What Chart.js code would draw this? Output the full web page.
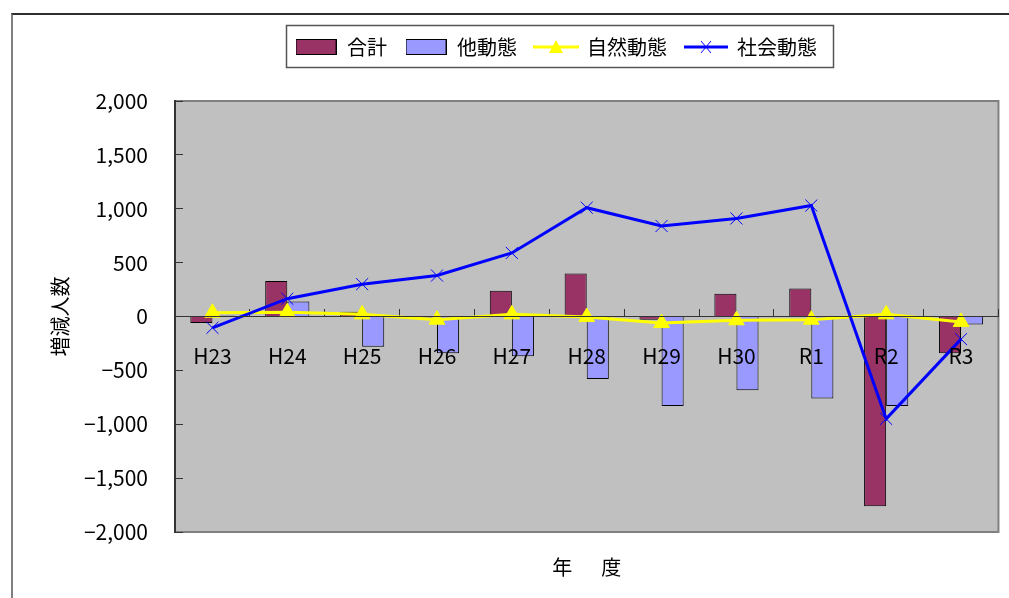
<!DOCTYPE html>
<html>
<head>
<meta charset="utf-8">
<script src="https://cdn.jsdelivr.net/npm/chart.js@4/dist/chart.umd.min.js"></script>
<style>
  html, body { margin: 0; padding: 0; background: #fff; }
  #wrap { position: relative; width: 1009px; height: 598px; overflow: hidden; }
  #frame { position: absolute; left: 11px; top: 13px; right: -6px; bottom: -6px;
           border-top: 2px solid #2e2e2e; border-left: 2px solid #7f7f7f; pointer-events: none; }
  canvas { display: block; }
</style>
</head>
<body>
<div id="wrap">
  <canvas id="chart" width="1009" height="598"></canvas>
  <div id="frame"></div>
</div>
<script>
// 年度別の人口増減（人）
const categories = ['H23', 'H24', 'H25', 'H26', 'H27', 'H28', 'H29', 'H30', 'R1', 'R2', 'R3'];
const totalChange   = [-60, 330, 45, -10, 240, 400, -30, 210, 260, -1760, -340];   // 合計
const otherChange   = [10, 140, -280, -340, -370, -580, -830, -685, -760, -830, -75]; // 他動態
const naturalChange = [35, 40, 20, -30, 20, -5, -60, -35, -30, 20, -50];              // 自然動態
const socialChange  = [-105, 165, 300, 380, 590, 1010, 840, 910, 1030, -950, -210];   // 社会動態
const yTicks = [-2000, -1500, -1000, -500, 0, 500, 1000, 1500, 2000];

const FONT = "'Noto Sans CJK JP', 'Noto Sans', sans-serif";
Chart.defaults.font.family = FONT;
Chart.defaults.font.size = 20;
Chart.defaults.color = '#000';

// small legend glyphs: filled box for bars, line + marker for lines
function legendIcon(kind) {
  const cv = document.createElement('canvas');
  const ctx = cv.getContext('2d');
  if (kind === 'barTotal' || kind === 'barOther') {
    cv.width = 41; cv.height = 16;
    ctx.fillStyle = kind === 'barTotal' ? '#993366' : '#9999FF';
    ctx.fillRect(0.5, 0.5, 40, 15);
    ctx.strokeStyle = '#000'; ctx.lineWidth = 1;
    ctx.strokeRect(0.5, 0.5, 40, 15);
  } else if (kind === 'natural') {
    cv.width = 46; cv.height = 18;
    ctx.strokeStyle = '#FFFF00'; ctx.lineWidth = 3;
    ctx.beginPath(); ctx.moveTo(0, 9); ctx.lineTo(46, 9); ctx.stroke();
    ctx.fillStyle = '#FFFF00';
    ctx.beginPath(); ctx.moveTo(23, 2); ctx.lineTo(30, 15); ctx.lineTo(16, 15); ctx.closePath(); ctx.fill();
  } else {
    cv.width = 44; cv.height = 18;
    ctx.strokeStyle = '#0000FF'; ctx.lineWidth = 3;
    ctx.beginPath(); ctx.moveTo(0, 9); ctx.lineTo(44, 9); ctx.stroke();
    ctx.lineWidth = 1;
    ctx.beginPath(); ctx.moveTo(17, 3); ctx.lineTo(27, 15); ctx.moveTo(27, 3); ctx.lineTo(17, 15); ctx.stroke();
  }
  return cv;
}
const legendIcons = [legendIcon('barTotal'), legendIcon('barOther'), legendIcon('natural'), legendIcon('social')];

// gray plotting area with a thin darker outline
const plotArea = {
  id: 'plotArea',
  beforeDraw(chart) {
    const { ctx, chartArea: a } = chart;
    ctx.save();
    ctx.fillStyle = '#C0C0C0';
    ctx.fillRect(a.left, a.top, a.right - a.left, a.bottom - a.top);
    ctx.strokeStyle = '#808080';
    ctx.lineWidth = 2;
    ctx.strokeRect(a.left, a.top, a.right - a.left, a.bottom - a.top);
    ctx.restore();
  }
};

// legend: extra space below it, a small right shift, and a frame around its items
const LEGEND_GAP = 34;
const LEGEND_SHIFT = 36;
const legendFrame = {
  id: 'legendFrame',
  beforeInit(chart) {
    const legend = chart.legend;
    const fit = legend.fit;
    legend.fit = function () {
      fit.call(this);
      this.height += LEGEND_GAP;
    };
  },
  afterLayout(chart) {
    const legend = chart.legend;
    legend.left += LEGEND_SHIFT;
    legend.right += LEGEND_SHIFT;
  },
  afterDraw(chart) {
    const boxes = chart.legend && chart.legend.legendHitBoxes;
    if (!boxes || !boxes.length) return;
    const left = Math.min(...boxes.map(b => b.left)) - 9;
    const right = Math.max(...boxes.map(b => b.left + b.width)) + 16;
    const top = boxes[0].top - 12;
    const bottom = boxes[0].top + boxes[0].height + 10;
    const { ctx } = chart;
    ctx.save();
    ctx.strokeStyle = '#555';
    ctx.lineWidth = 1.5;
    ctx.strokeRect(Math.round(left) + 0.5, Math.round(top) + 0.5, Math.round(right - left), Math.round(bottom - top));
    ctx.restore();
  }
};

new Chart(document.getElementById('chart'), {
  data: {
    labels: categories,
    datasets: [
      { type: 'bar', label: '合計', data: totalChange, xAxisID: 'x', yAxisID: 'y',
        backgroundColor: '#993366', borderColor: '#000', borderWidth: 1,
        categoryPercentage: 0.59, barPercentage: 1, order: 2 },
      { type: 'bar', label: '他動態', data: otherChange, xAxisID: 'x', yAxisID: 'y',
        backgroundColor: '#9999FF', borderColor: '#000', borderWidth: 1,
        categoryPercentage: 0.59, barPercentage: 1, order: 3 },
      { type: 'line', label: '自然動態', data: naturalChange, xAxisID: 'x', yAxisID: 'y',
        borderColor: '#FFFF00', backgroundColor: '#FFFF00', borderWidth: 3, tension: 0,
        pointStyle: 'triangle', pointRadius: 9, pointHoverRadius: 9,
        pointBackgroundColor: '#FFFF00', pointBorderColor: '#FFFF00', pointBorderWidth: 1, order: 1 },
      { type: 'line', label: '社会動態', data: socialChange, xAxisID: 'x', yAxisID: 'y',
        borderColor: '#0000FF', backgroundColor: '#0000FF', borderWidth: 3, tension: 0,
        pointStyle: 'crossRot', pointRadius: 8.5, pointHoverRadius: 8.5,
        pointBorderColor: '#0000FF', pointBorderWidth: 1, order: 0 }
    ]
  },
  options: {
    responsive: false,
    animation: false,
    devicePixelRatio: 1,
    layout: { padding: { left: 40, right: 9, top: 19, bottom: 0 } },
    plugins: {
      tooltip: { enabled: false },
      legend: {
        position: 'top',
        align: 'center',
        labels: {
          usePointStyle: true,
          pointStyleWidth: 42,
          padding: 18,
          color: '#000',
          font: { family: FONT, size: 20 },
          sort: (a, b) => a.datasetIndex - b.datasetIndex,
          generateLabels(chart) {
            const items = Chart.defaults.plugins.legend.labels.generateLabels(chart);
            items.forEach(it => { it.pointStyle = legendIcons[it.datasetIndex]; });
            return items;
          }
        }
      }
    },
    scales: {
      x: {
        type: 'category',
        position: { y: 0 },
        offset: true,
        grid: { drawOnChartArea: false, offset: true, tickLength: -8, color: '#333', lineWidth: 1 },
        border: { color: '#333', width: 1, z: 1 },
        ticks: { z: 2, padding: 35, color: '#000', font: { family: FONT, size: 21 }, maxRotation: 0, autoSkip: false }
      },
      xt: {
        type: 'category',
        axis: 'x',
        position: 'bottom',
        grid: { display: false, drawTicks: false },
        border: { display: false },
        ticks: { display: false },
        title: { display: true, text: '年\u3000  度', color: '#000',
                 font: { family: FONT, size: 20 }, padding: { top: 23, bottom: 19 } }
      },
      y: {
        type: 'linear',
        position: 'left',
        min: -2000,
        max: 2000,
        afterFit(scale) { scale.width = 135; },
        afterBuildTicks(scale) { scale.ticks = yTicks.map(v => ({ value: v })); },
        grid: { drawOnChartArea: false, tickLength: -8, color: '#333', lineWidth: 1 },
        border: { color: '#333', width: 2 },
        ticks: {
          padding: 35,
          color: '#000',
          font: { family: FONT, size: 21 },
          callback: v => (v < 0 ? '\u2212' : '') + Math.abs(v).toLocaleString('en-US')
        },
        title: { display: true, text: '増減人数', color: '#000',
                 font: { family: FONT, size: 20 }, padding: { top: 8, bottom: 0 } }
      }
    }
  },
  plugins: [plotArea, legendFrame]
});
</script>
</body>
</html>
